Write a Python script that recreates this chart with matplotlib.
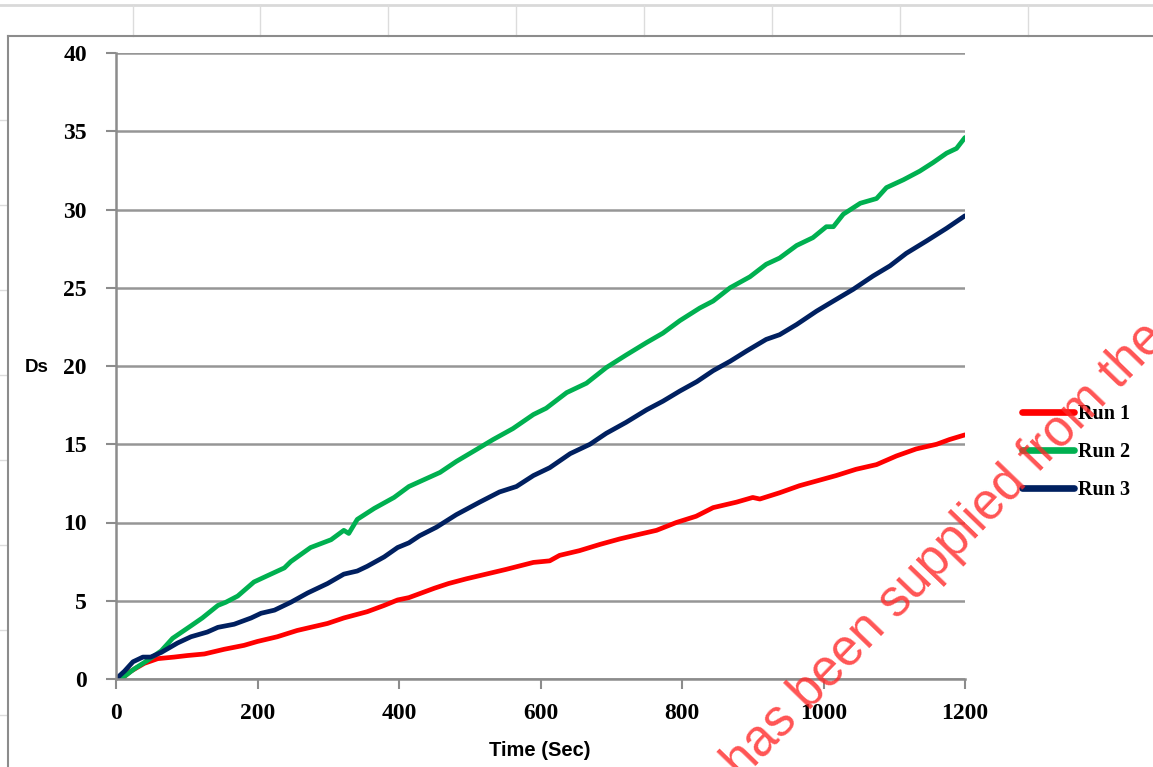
import matplotlib
matplotlib.use("Agg")
import matplotlib.pyplot as plt
from matplotlib.lines import Line2D

# values (time in sec, Ds)
run1_t = [0, 10, 21, 40, 59, 82, 101, 125, 153, 181, 200, 228, 256, 275, 299, 322, 355, 379, 398, 414,
          450, 470, 495, 523, 551, 590, 613, 627, 655, 684, 712, 740, 764, 792, 820, 844, 877, 900, 910,
          938, 966, 994, 1018, 1046, 1075, 1103, 1131, 1160, 1178, 1200]
run1_v = [0, 0.1, 0.5, 1.0, 1.3, 1.4, 1.5, 1.6, 1.9, 2.15, 2.4, 2.7, 3.1, 3.3, 3.55, 3.9, 4.3, 4.7, 5.05, 5.2,
          5.8, 6.1, 6.4, 6.7, 7.0, 7.45, 7.55, 7.9, 8.2, 8.6, 8.95, 9.25, 9.5, 10.0, 10.4, 10.95, 11.3, 11.6, 11.5,
          11.9, 12.35, 12.7, 13.0, 13.4, 13.7, 14.25, 14.7, 15.0, 15.3, 15.6]

run2_t = [0, 7, 26, 45, 64, 80, 106, 122, 144, 155, 172, 195, 214, 238, 247, 275, 304, 322, 329, 341, 365,
          393, 414, 436, 458, 481, 509, 533, 561, 590, 608, 637, 665, 693, 721, 750, 773, 797, 825, 844, 868,
          896, 919, 938, 962, 985, 1004, 1014, 1028, 1052, 1075, 1089, 1113, 1136, 1155, 1174, 1188, 1200]
run2_v = [0, 0, 0.65, 1.2, 1.8, 2.6, 3.4, 3.9, 4.7, 4.9, 5.3, 6.2, 6.6, 7.1, 7.5, 8.4, 8.9, 9.5, 9.3, 10.2, 10.9,
          11.6, 12.3, 12.75, 13.2, 13.9, 14.65, 15.3, 16.0, 16.9, 17.3, 18.3, 18.9, 19.9, 20.7, 21.5, 22.1, 22.9,
          23.7, 24.15, 25.0, 25.7, 26.5, 26.9, 27.7, 28.2, 28.9, 28.9, 29.7, 30.4, 30.7, 31.4, 31.9, 32.45,
          33.0, 33.6, 33.9, 34.6]

run3_t = [0, 12, 24, 38, 49, 64, 87, 106, 129, 144, 167, 191, 205, 224, 247, 271, 299, 322, 341, 355, 379,
          398, 414, 429, 453, 481, 514, 542, 566, 590, 613, 642, 670, 693, 721, 750, 773, 797, 821, 844, 868,
          891, 919, 938, 962, 990, 1014, 1042, 1070, 1094, 1117, 1146, 1174, 1200]
run3_v = [0, 0.5, 1.1, 1.4, 1.4, 1.7, 2.3, 2.7, 3.0, 3.3, 3.5, 3.9, 4.2, 4.4, 4.9, 5.5, 6.1, 6.7, 6.9, 7.2, 7.8,
          8.4, 8.7, 9.15, 9.7, 10.5, 11.3, 11.95, 12.3, 13.0, 13.5, 14.4, 15.0, 15.7, 16.4, 17.2, 17.75, 18.4,
          19.0, 19.7, 20.3, 20.95, 21.7, 22.0, 22.65, 23.5, 24.15, 24.9, 25.75, 26.4, 27.2, 28.0, 28.8, 29.6]

x_ticks = [0, 200, 400, 600, 800, 1000, 1200]
y_ticks = [0, 5, 10, 15, 20, 25, 30, 35, 40]
series = [("Run 1", run1_t, run1_v, "#FF0000"),
          ("Run 2", run2_t, run2_v, "#00B050"),
          ("Run 3", run3_t, run3_v, "#002060")]

W, H = 1153, 767
fig = plt.figure(figsize=(W / 100, H / 100), dpi=100)

# spreadsheet cells behind the chart
def fline(x0, y0, x1, y1, **kw):
    fig.add_artist(Line2D([x0 / W, x1 / W], [1 - y0 / H, 1 - y1 / H], **kw))

fline(0, 5, W, 5, color="#d9d9d9", lw=2)
for cx in [133, 260, 388, 516, 644, 772, 900, 1028]:
    fline(cx, 5, cx, 36, color="#dcdcdc", lw=1)
for ry in [120, 205, 290, 375, 460, 545, 630, 715]:
    fline(0, ry, 6, ry, color="#dcdcdc", lw=1)
# chart frame
fline(8, 36, W, 36, color="#8c8c8c", lw=1.5)
fline(8, 36, 8, H, color="#8c8c8c", lw=1.5)

ax = fig.add_axes([116 / W, 1 - 679 / H, (965 - 116) / W, (679 - 53) / H])
for name, t, v, c in series:
    ax.plot(t, v, color=c, lw=3.4, label=name, solid_capstyle="round", solid_joinstyle="round")

ax.set_xlim(0, 1200)
ax.set_ylim(0, 40)
ax.set_xticks(x_ticks)
ax.set_yticks(y_ticks)
ax.grid(axis="y", color="#969696", lw=1.8)
ax.set_axisbelow(True)
for s in ["top", "right"]:
    ax.spines[s].set_visible(False)
for s in ["left", "bottom"]:
    ax.spines[s].set_color("#8c8c8c")
    ax.spines[s].set_linewidth(1.8)
ax.tick_params(axis="both", color="#8c8c8c", width=1.5, length=7)
ax.tick_params(axis="y", pad=14)
ax.tick_params(axis="x", pad=10)
for lab in ax.get_xticklabels() + ax.get_yticklabels():
    lab.set_fontfamily("Liberation Serif")
    lab.set_fontweight("bold")
    lab.set_fontsize(17)

fig.text(37 / W, 1 - 367 / H, "Ds", ha="center", va="center",
         fontfamily="Liberation Sans", fontweight="bold", fontsize=13.5)
fig.text(540 / W, 1 - 750 / H, "Time (Sec)", ha="center", va="center",
         fontfamily="Liberation Sans", fontweight="bold", fontsize=14.5)

leg = ax.legend(loc="center left", bbox_to_anchor=(1012 / W, 1 - 452 / H),
                bbox_transform=fig.transFigure, frameon=False, borderpad=0,
                prop={"family": "Liberation Serif", "weight": "bold", "size": 14.5},
                handlelength=2.6, handletextpad=0.2, labelspacing=0.9)
for h in leg.get_lines():
    h.set_linewidth(4.8)

# watermark
fig.text(742 / W, 1 - 780 / H, "has been supplied from the", rotation=46,
         rotation_mode="anchor", ha="left", va="baseline", color="#ff2a2a", alpha=0.8,
         fontfamily="Liberation Sans", fontsize=36.5)

fig.savefig("out.png", dpi=100)
